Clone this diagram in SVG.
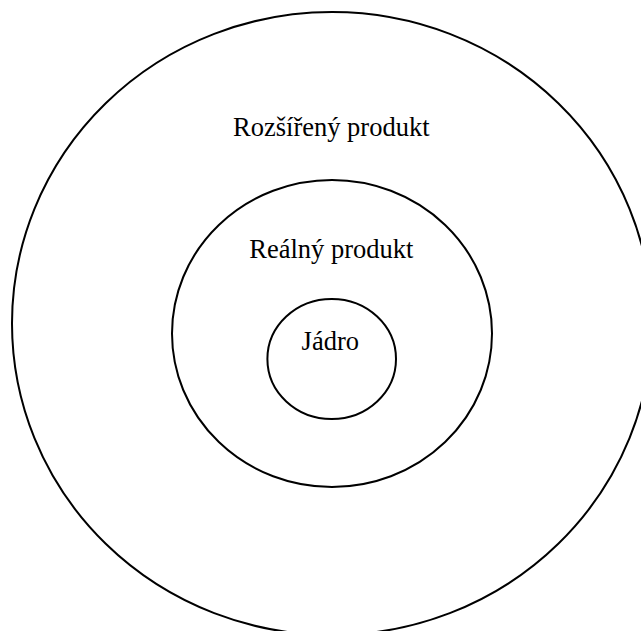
<svg xmlns="http://www.w3.org/2000/svg" width="641" height="631" viewBox="0 0 641 631">
<style>
.ring{fill:none;stroke:#000;stroke-width:2}
.lbl{font-family:"Liberation Serif","Times New Roman",serif;font-size:26.5px;fill:#000;text-anchor:middle}
</style>
<rect width="641" height="631" fill="#fff"/>
<g id="outer"><ellipse class="ring" cx="332" cy="323.5" rx="320" ry="311.5"/><text class="lbl" x="331.3" y="136">Rozšířený produkt</text></g>
<g id="middle"><ellipse class="ring" cx="332" cy="333.5" rx="160" ry="153.5"/><text class="lbl" x="331.3" y="258">Reálný produkt</text></g>
<g id="core"><ellipse class="ring" cx="331.7" cy="359" rx="64.3" ry="60"/><text class="lbl" x="330.3" y="350">Jádro</text></g>
<g id="connectors"/>
</svg>
